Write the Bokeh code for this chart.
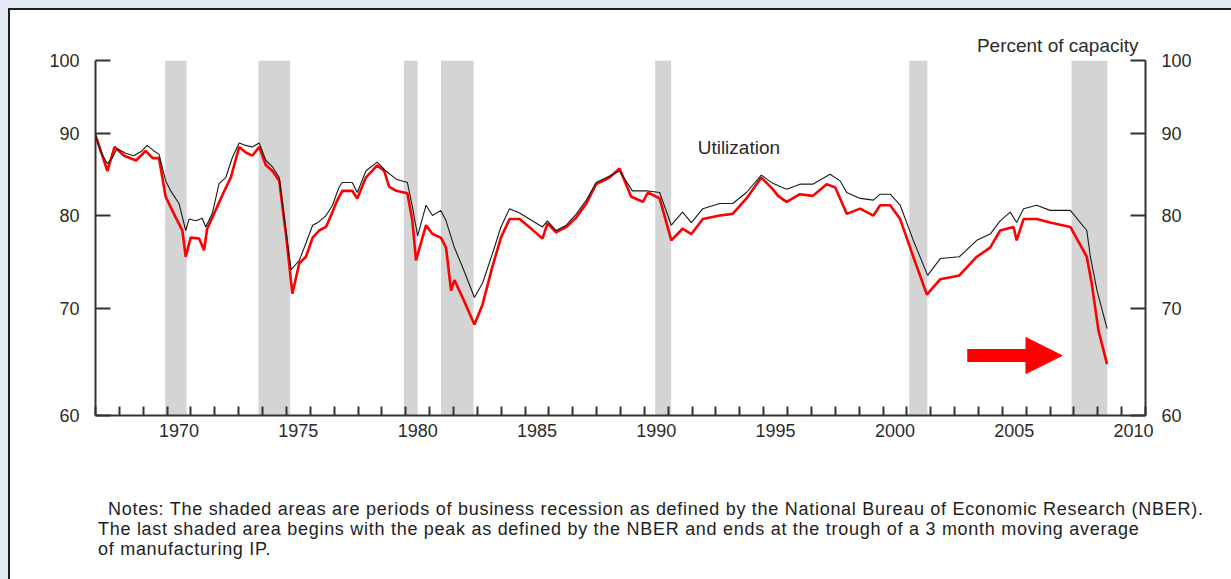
from bokeh.plotting import figure
from bokeh.layouts import column
from bokeh.models import (Range1d, LogAxis, FixedTicker, NumeralTickFormatter, Label, Title, Div,
                          Arrow, NormalHead, CustomJSTickFormatter)
from bokeh.embed import file_html
from bokeh.resources import INLINE

# ---------------- data ----------------
total_t = [1967.0, 1967.2, 1967.5, 1967.7, 1967.9, 1968.26, 1968.6, 1968.95, 1969.16, 1969.45,
           1969.66, 1969.94, 1970.15, 1970.5, 1970.78, 1970.92, 1971.2, 1971.47, 1971.62, 1971.9,
           1972.18, 1972.46, 1972.74, 1973.02, 1973.3, 1973.57, 1973.86, 1974.14, 1974.42, 1974.7,
           1974.98, 1975.2, 1975.54, 1975.82, 1976.1, 1976.37, 1976.66, 1976.93, 1977.2, 1977.34,
           1977.76, 1977.97, 1978.33, 1978.8, 1979.17, 1979.6, 1980.07, 1980.28, 1980.5, 1980.85,
           1981.12, 1981.47, 1981.69, 1982.04, 1982.38, 1982.88, 1983.22, 1983.63, 1983.99, 1984.35,
           1984.77, 1985.3, 1985.73, 1985.94, 1986.3, 1986.73, 1987.15, 1987.57, 1987.98, 1988.54,
           1988.96, 1989.5, 1990.08, 1990.64, 1991.13, 1991.6, 1991.97, 1992.45, 1993.16, 1993.7,
           1994.28, 1994.9, 1995.38, 1995.96, 1996.52, 1997.06, 1997.78, 1998.2, 1998.48, 1999.04,
           1999.6, 1999.88, 2000.3, 2000.72, 2001.27, 2001.87, 2002.4, 2003.2, 2003.93, 2004.49,
           2004.91, 2005.33, 2005.6, 2005.89, 2006.44, 2007.0, 2007.85, 2008.54, 2008.69, 2008.97,
           2009.39]
total_v = [89.8, 87.8, 86.2, 86.9, 88.1, 87.5, 87.2, 87.8, 88.5, 87.8,
           87.4, 84.1, 82.9, 81.4, 78.3, 79.6, 79.4, 79.7, 78.7, 80.3,
           83.8, 84.5, 87.0, 88.8, 88.5, 88.3, 88.8, 86.6, 85.8, 84.5,
           78.3, 74.0, 75.0, 76.9, 78.9, 79.3, 80.0, 81.2, 83.3, 83.9,
           83.9, 82.7, 85.3, 86.4, 85.3, 84.3, 83.9, 81.0, 77.7, 81.2,
           80.0, 80.6, 79.4, 76.4, 74.3, 71.1, 72.6, 75.7, 78.7, 80.8,
           80.3, 79.4, 78.7, 79.4, 78.3, 78.9, 80.2, 81.8, 83.9, 84.7,
           85.3, 82.9, 82.9, 82.7, 78.9, 80.4, 79.2, 80.8, 81.4, 81.4,
           82.7, 84.8, 83.8, 83.1, 83.7, 83.7, 84.9, 84.1, 82.7, 82.0,
           81.8, 82.5, 82.5, 81.2, 77.2, 73.4, 75.2, 75.4, 77.2, 77.9,
           79.4, 80.4, 79.2, 80.8, 81.2, 80.6, 80.6, 78.3, 75.4, 71.8,
           68.0]

manuf_t = [1967.0, 1967.5, 1967.8, 1968.2, 1968.7, 1969.1, 1969.4, 1969.66, 1969.94, 1970.36,
           1970.64, 1970.78, 1970.99, 1971.34, 1971.55, 1971.68, 1972.03, 1972.4, 1972.67, 1973.02,
           1973.3, 1973.57, 1973.86, 1974.14, 1974.42, 1974.7, 1974.98, 1975.25, 1975.54, 1975.82,
           1976.1, 1976.37, 1976.66, 1976.93, 1977.1, 1977.34, 1977.76, 1977.97, 1978.33, 1978.8,
           1979.1, 1979.3, 1979.6, 1980.07, 1980.28, 1980.43, 1980.85, 1981.12, 1981.47, 1981.69,
           1981.9, 1982.04, 1982.38, 1982.88, 1983.22, 1983.63, 1983.99, 1984.35, 1984.77, 1985.3,
           1985.73, 1985.94, 1986.3, 1986.73, 1987.15, 1987.57, 1987.98, 1988.54, 1988.96, 1989.45,
           1989.94, 1990.15, 1990.64, 1991.13, 1991.6, 1991.97, 1992.45, 1993.16, 1993.7, 1994.28,
           1994.9, 1995.38, 1995.6, 1995.96, 1996.52, 1997.06, 1997.64, 1998.0, 1998.48, 1999.04,
           1999.6, 1999.88, 2000.3, 2000.72, 2001.27, 2001.84, 2002.4, 2003.2, 2003.93, 2004.49,
           2004.91, 2005.47, 2005.6, 2005.89, 2006.44, 2007.0, 2007.85, 2008.54, 2008.75, 2009.03,
           2009.39]
manuf_v = [89.8, 85.3, 88.3, 87.2, 86.6, 87.8, 86.9, 86.9, 82.2, 79.8,
           78.3, 75.4, 77.5, 77.4, 76.1, 78.5, 80.6, 82.9, 84.5, 88.3,
           87.6, 87.2, 88.3, 86.0, 85.3, 84.1, 77.9, 71.5, 74.7, 75.4,
           77.5, 78.3, 78.7, 80.4, 81.6, 82.9, 82.9, 82.0, 84.5, 86.0,
           85.3, 83.4, 82.9, 82.6, 79.4, 75.0, 78.9, 77.9, 77.5, 76.4,
           71.8, 72.9, 71.1, 68.4, 70.4, 74.3, 77.5, 79.6, 79.6, 78.4,
           77.4, 79.1, 78.1, 78.7, 79.8, 81.4, 83.7, 84.5, 85.6, 82.2,
           81.6, 82.7, 82.0, 77.2, 78.5, 77.9, 79.6, 80.0, 80.2, 82.0,
           84.5, 83.1, 82.3, 81.6, 82.5, 82.3, 83.7, 83.3, 80.2, 80.8,
           80.0, 81.2, 81.2, 79.6, 75.4, 71.4, 73.0, 73.4, 75.4, 76.4,
           78.3, 78.7, 77.2, 79.6, 79.6, 79.2, 78.7, 75.4, 72.5, 67.8,
           64.6]

recession_start = [1969.92, 1973.83, 1979.92, 1981.48, 1990.45, 2001.1, 2007.9]
recession_end = [1970.82, 1975.16, 1980.5, 1982.84, 1991.12, 2001.86, 2009.4]

y_ticks = [60, 70, 80, 90, 100]
x_label_years = [1970, 1975, 1980, 1985, 1990, 1995, 2000, 2005, 2010]
x_year_marks = list(range(1967, 2012))

notes = [
    "Notes: The shaded areas are periods of business recession as defined by the National Bureau of Economic Research (NBER).",
    "The last shaded area begins with the peak as defined by the NBER and ends at the trough of a 3 month moving average",
    "of manufacturing IP.",
]

# ---------------- figure ----------------
FONT = "Liberation Sans"
TXT = "#2b2b2b"
AX = "#333333"

p = figure(width=1221, height=445, output_backend="svg", toolbar_location=None,
           x_range=Range1d(1967, 2011), y_range=Range1d(60, 100), y_axis_type="log",
           min_border_left=85, min_border_right=86, min_border_top=50, min_border_bottom=40)
p.background_fill_color = "white"
p.border_fill_color = "white"
p.outline_line_color = None
p.xgrid.visible = False
p.ygrid.visible = False

# recession shading
p.quad(left=recession_start, right=recession_end, bottom=60, top=100,
       fill_color="#d4d4d4", line_color=None)

# series
p.line(manuf_t, manuf_v, line_color="#ff0000", line_width=2.6)
p.line(total_t, total_v, line_color="#1a1a1a", line_width=1.1)

# y axes (left and right)
def style_y(ax):
    ax.ticker = FixedTicker(ticks=y_ticks)
    ax.formatter = NumeralTickFormatter(format="0")
    ax.major_tick_in = 15
    ax.major_tick_out = 0
    ax.major_tick_line_width = 2
    ax.major_tick_line_color = AX
    ax.minor_tick_line_color = None
    ax.axis_line_width = 2
    ax.axis_line_color = AX
    ax.major_label_standoff = 16
    ax.major_label_text_font = FONT
    ax.major_label_text_font_size = "18px"
    ax.major_label_text_color = TXT

style_y(p.yaxis[0])
right = LogAxis()
style_y(right)
p.add_layout(right, "right")

# x axis: year tick marks, labels at mid-year
xa = p.xaxis[0]
xa.ticker = FixedTicker(ticks=[y + 0.5 for y in x_label_years], minor_ticks=x_year_marks)
xa.formatter = CustomJSTickFormatter(code="return Math.floor(tick).toFixed(0);")
xa.major_tick_line_color = None
xa.major_tick_in = 0
xa.major_tick_out = 0
xa.minor_tick_in = 9
xa.minor_tick_out = 0
xa.minor_tick_line_width = 2
xa.minor_tick_line_color = AX
xa.axis_line_width = 2
xa.axis_line_color = AX
xa.major_label_standoff = 8
xa.major_label_text_font = FONT
xa.major_label_text_font_size = "18px"
xa.major_label_text_color = TXT

# title at the top right
p.add_layout(Title(text="Percent of capacity", align="right", offset=7, standoff=9,
                   text_font=FONT, text_font_size="19px", text_font_style="normal",
                   text_color=TXT), "above")

# inline label
p.add_layout(Label(x=1993.96, y=88.2, text="Utilization", text_align="center",
                   text_baseline="middle", text_font=FONT, text_font_size="19px",
                   text_color=TXT))

# red arrow
p.add_layout(Arrow(x_start=2003.53, y_start=65.4, x_end=2007.5, y_end=65.4,
                   line_color="#ff0000", line_width=13,
                   end=NormalHead(size=36, fill_color="#ff0000", line_color="#ff0000")))

# notes below the chart
notes_html = (
    '<div style="font-family:\'Liberation Sans\';font-size:18px;line-height:20px;color:#1e1e1e;'
    'letter-spacing:0.72px;white-space:nowrap;padding-top:39px;padding-left:83px;">'
    '<span style="padding-left:10px;">' + notes[0] + '</span><br>' + notes[1] + '<br>' + notes[2] +
    '</div>'
)
div = Div(text=notes_html, width=1221, height=124, styles={"background-color": "white"})

layout = column(p, div, spacing=0,
                styles={"border-top": "2px solid #1e1e1e", "border-left": "2px solid #1e1e1e",
                        "background-color": "white"})

html = file_html(layout, INLINE, title="Capacity utilization")
html = html.replace(
    "</head>",
    "<style>html body{margin:0 !important;padding:8px 0 0 8px !important;"
    "background-color:#e3eaf4 !important;}</style></head>", 1)
open("out.html", "w").write(html)
